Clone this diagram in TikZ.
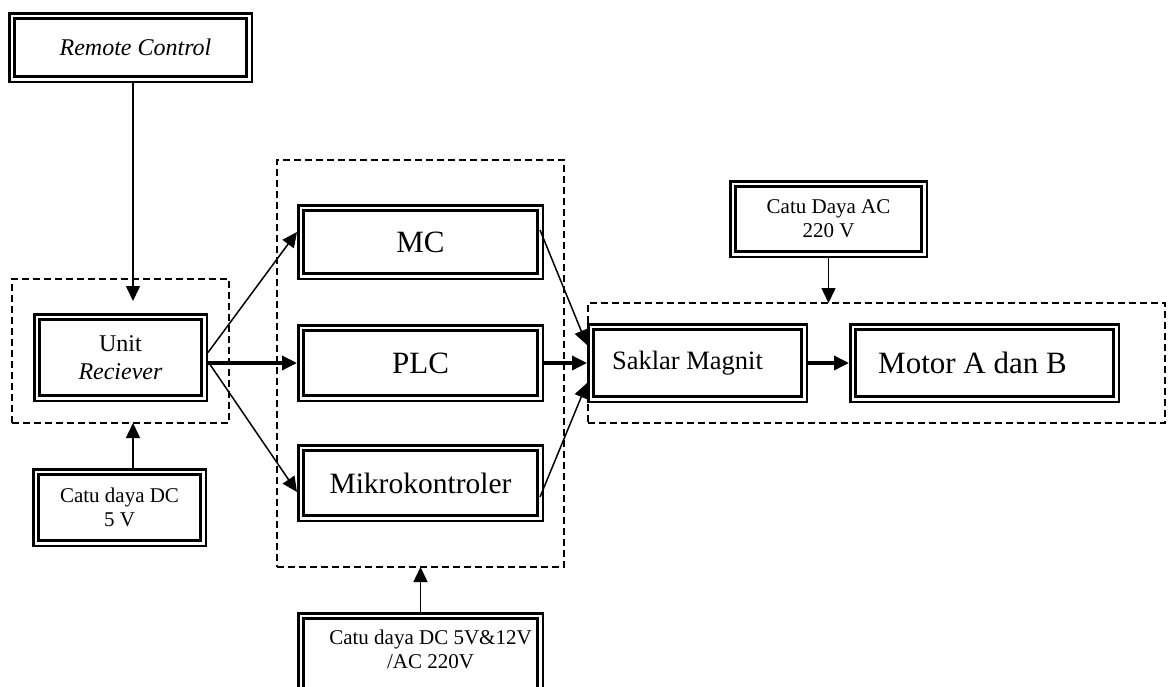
\documentclass[tikz,border=0pt]{standalone}
\usepackage{fontspec}
\setmainfont{Liberation Serif}
\usetikzlibrary{arrows.meta,calc}
\begin{document}
\begin{tikzpicture}[x=1pt,y=-1pt,
  dbl/.style={draw, line width=2.5pt, double=white, double distance=2.6pt, outer sep=3.8pt, inner sep=0pt, align=center},
  grp/.style={draw, dash pattern=on 7pt off 4pt, line width=1.4pt, inner sep=0pt, outer sep=0pt},
  arr/.style={-{Triangle[length=15pt,width=14pt]}, line width=1.5pt},
  arrT/.style={-{Triangle[length=15pt,width=14pt]}, line width=3.4pt},
  fS/.style={font=\fontsize{21}{24}\selectfont},
  fM/.style={font=\fontsize{24}{28}\selectfont},
  fK/.style={font=\fontsize{26.5}{30}\selectfont},
  fB/.style={font=\fontsize{31}{36}\selectfont}]
\clip (0,0) rectangle (1169,686);
% group boxes
\node[grp, minimum width=217pt, minimum height=144pt] (g1) at (120.5,351) {};
\node[grp, minimum width=287pt, minimum height=407pt] (g2) at (420.5,363.5) {};
\node[grp, minimum width=577pt, minimum height=120pt] (g3) at (876.5,363) {};
% boxes
\node[dbl, fM, minimum width=237.4pt, minimum height=63.4pt] (rc) at (130.5,47.5) {\hspace*{10pt}\textit{Remote Control}};
\node[dbl, fM, minimum width=167.4pt, minimum height=81.4pt] (unit) at (120.5,357.5) {Unit\\\textit{Reciever}};
\node[dbl, fS, minimum width=167.4pt, minimum height=71.4pt] (dc1) at (119.5,507.5) {Catu daya DC\\5 V};
\node[dbl, fB, minimum width=239.4pt, minimum height=68.4pt] (mc) at (420.5,242) {MC};
\node[dbl, fB, minimum width=239.4pt, minimum height=70.4pt] (plc) at (420.5,363) {PLC};
\node[dbl, font=\fontsize{29.5}{34}\selectfont, minimum width=239.4pt, minimum height=70.4pt] (mk) at (420.5,483) {Mikrokontroler};
\node[dbl, fS, minimum width=191.4pt, minimum height=70.4pt] (ac) at (828.5,219) {Catu Daya AC\\220 V};
\node[dbl, fK, minimum width=213.4pt, minimum height=72.4pt] (sk) at (697.5,363) {Saklar Magnit\hspace*{20pt}};
\node[dbl, fB, minimum width=263.4pt, minimum height=72.4pt] (mot) at (984.5,363) {Motor A dan B\hspace*{24pt}};
% bottom box (cut off by the page edge)
\draw[line width=2.5pt, double=white, double distance=2.6pt] (300.8,710) |- (540.2,615.8) -- (540.2,710);
\node[fS, align=center, inner sep=0pt] (dc3) at (430.5,649) {Catu daya DC 5V\&12V\\/AC 220V};
\coordinate (dc3top) at (420.5,612);
% connectors
\coordinate (rcend) at (133,301);
\draw[arr] (rcend |- rc.south) -- (rcend);
\draw[arr] (dc1.north -| rcend) -- (g1.south -| rcend);
\draw[arr] ([yshift=5pt]unit.east) -- ([yshift=10pt]mc.west);
\draw[arrT] (unit.east |- plc.west) -- (plc.west);
\draw[arr] ([yshift=-4pt]unit.east) -- ([yshift=-9pt]mk.west);
\draw[arr] ([xshift=-4pt,yshift=12pt]mc.east) -- ([yshift=18pt]sk.west);
\draw[arrT] (plc.east) -- (sk.west);
\draw[arr] ([xshift=-4pt,yshift=-14pt]mk.east) -- ([yshift=-20pt]sk.west);
\draw[arrT] (sk.east) -- (mot.west);
\draw[arr] (ac.south) -- (ac.south |- g3.north);
\draw[arr] (dc3top) -- (g2.south);
\end{tikzpicture}
\end{document}
